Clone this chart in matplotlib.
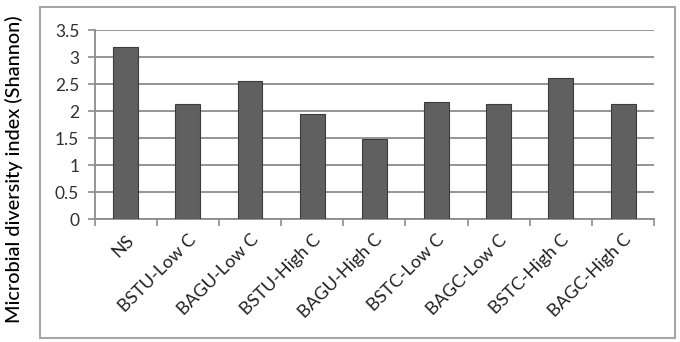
import matplotlib
matplotlib.use("Agg")
import matplotlib.pyplot as plt
from matplotlib.patches import Rectangle

plt.rcParams['font.family'] = ['Lato', 'DejaVu Sans']

# data
categories = ["NS", "BSTU-Low C", "BAGU-Low C", "BSTU-High C", "BAGU-High C",
              "BSTC-Low C", "BAGC-Low C", "BSTC-High C", "BAGC-High C"]
shannon = [3.19, 2.14, 2.56, 1.94, 1.48, 2.17, 2.14, 2.61, 2.14]
yticks = [0, 0.5, 1, 1.5, 2, 2.5, 3, 3.5]
ytick_labels = ["0", "0.5", "1", "1.5", "2", "2.5", "3", "3.5"]

fig = plt.figure(figsize=(6.8, 3.42), dpi=100)
ax = fig.add_axes([0.139, 0.359, 0.823, 0.553])

# outer frame like excel chart area
fig.patches.append(Rectangle((0.059, 0.012), 0.934, 0.968, transform=fig.transFigure,
                             fill=False, edgecolor="#a6a6a6", linewidth=1.5))

x = range(len(categories))
ax.bar(x, shannon, width=0.4, color="#606060", edgecolor="#3c3c3c", linewidth=0.8, zorder=3)

ax.set_xlim(-0.5, len(categories) - 0.5)
ax.set_ylim(0, 3.5)
ax.set_yticks(yticks)
ax.set_yticklabels(ytick_labels, fontsize=12.5, color="#303030")
ax.yaxis.grid(True, color="#8c8c8c", linewidth=1.3, zorder=0)

ax.set_xticks([i - 0.5 for i in range(len(categories) + 1)])
ax.set_xticklabels([])
ax.set_xticks(list(x), minor=True)
ax.set_xticklabels(categories, minor=True, rotation=45, ha="right",
                   rotation_mode="anchor", fontsize=13, color="#202020")
ax.tick_params(axis="x", which="minor", length=0, pad=9)
ax.tick_params(axis="x", which="major", length=5, width=1.2, color="#8c8c8c", direction="out")
ax.tick_params(axis="y", length=5, width=1.2, color="#8c8c8c", direction="out", pad=6)

for s in ["top", "right"]:
    ax.spines[s].set_visible(False)
for s in ["left", "bottom"]:
    ax.spines[s].set_color("#8c8c8c")
    ax.spines[s].set_linewidth(1.3)

fig.text(0.02, 0.505, "Microbial diversity index (Shannon)", rotation=90,
         ha="center", va="center", fontsize=14.3, fontweight="medium", color="#000000")

fig.savefig("out.png", dpi=100)
